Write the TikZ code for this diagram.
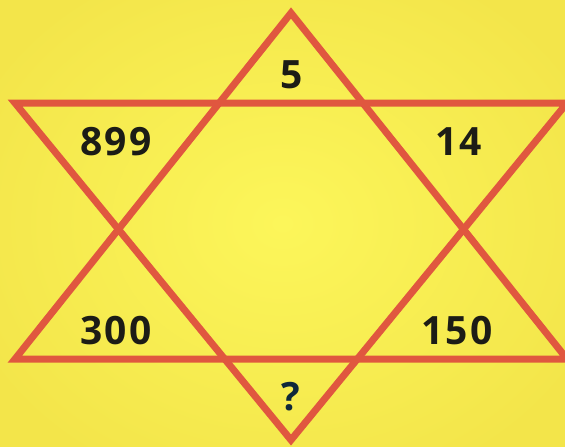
\documentclass[tikz,border=0pt]{standalone}
\usepackage{fontspec}
\setmainfont{Open Sans}
\definecolor{bgedge}{HTML}{F3E54A}
\definecolor{bgmid}{HTML}{FCF65A}
\definecolor{starred}{HTML}{E0573F}
\definecolor{numink}{HTML}{1C1C16}
\definecolor{qink}{HTML}{10283A}
\tikzset{
  starline/.style={draw=starred, line width=7pt, line join=miter},
  numlabel/.style={font=\fontsize{39}{42}\bfseries\addfontfeature{LetterSpace=5}\selectfont, text=numink, inner sep=0pt, anchor=center}
}
\begin{document}
\begin{tikzpicture}[x=1pt,y=-1pt]
\useasboundingbox (0,0) rectangle (565,447);
\clip (0,0) rectangle (565,447);
\shade[inner color=bgmid, outer color=bgedge] (-60,-60) rectangle (625,507);
% upward triangle
\coordinate (ua) at (291,13);
\coordinate (ul) at (15,359);
\coordinate (ur) at (567,359);
% downward triangle
\coordinate (da) at (291,440);
\coordinate (dl) at (15,103);
\coordinate (dr) at (567,103);
\draw[starline] (ua) -- (ul) -- (ur) -- cycle;
\draw[starline] (da) -- (dl) -- (dr) -- cycle;
\node[numlabel] (top) at (292,75) {5};
\node[numlabel] (tl) at (116,142) {899};
\node[numlabel] (tr) at (459,142) {14};
\node[numlabel] (bl) at (116,331) {300};
\node[numlabel] (br) at (457,331) {150};
\node[numlabel, text=qink] (bot) at (291,397) {?};
\end{tikzpicture}
\end{document}
